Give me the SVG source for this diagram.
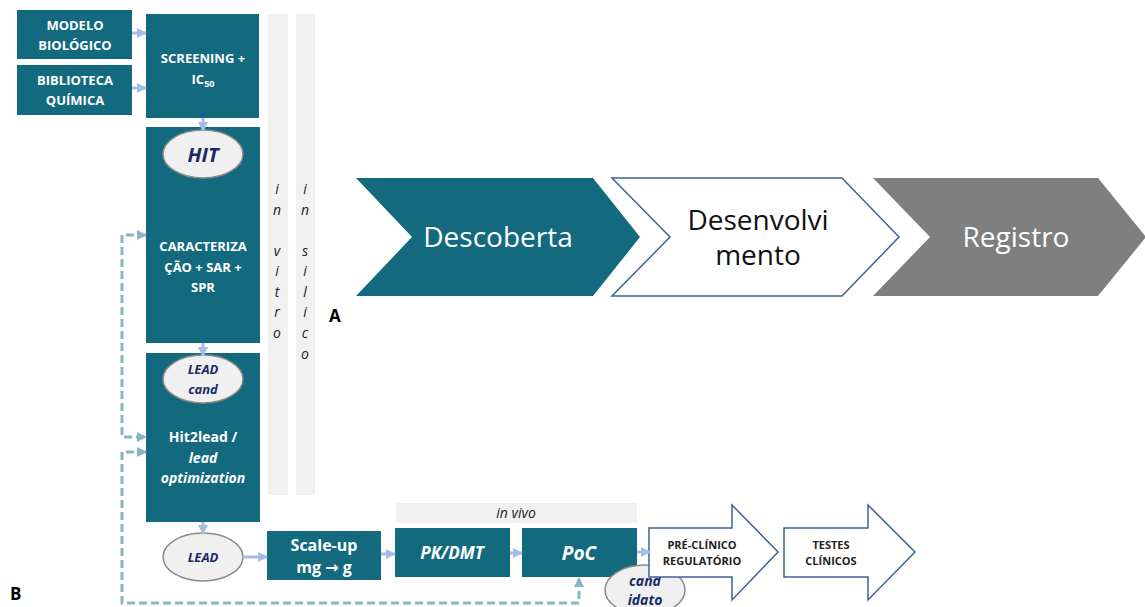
<svg xmlns="http://www.w3.org/2000/svg" width="1145" height="607" viewBox="0 0 1145 607">
<defs>
<style>
.box{fill:#136a7f}
.ell{fill:#f0f0f0;stroke:#8a8a8a;stroke-width:1.5}
.strip{fill:#f1f1f1}
.wt{fill:#ffffff;font-family:"Open Sans","Liberation Sans",sans-serif;font-weight:bold;font-size:13px;text-anchor:middle}
.nv{fill:#1b2a66;font-family:"Open Sans","Liberation Sans",sans-serif;font-weight:bold;font-style:italic;text-anchor:middle}
.vt{fill:#222222;font-family:"Open Sans","Liberation Sans",sans-serif;font-style:italic;font-size:14px;text-anchor:middle}
.dk{fill:#222222;font-family:"Open Sans","Liberation Sans",sans-serif;font-weight:bold;font-size:11px;text-anchor:middle}
.big{font-family:"Open Sans","Liberation Sans",sans-serif;font-size:28px;text-anchor:middle}
.lbl{fill:#000;font-family:"Open Sans","Liberation Sans",sans-serif;font-weight:bold;font-size:17px}
.solid{fill:none;stroke:#a3bde3;stroke-width:3}
.dash{fill:none;stroke:#8ab6c3;stroke-width:3;stroke-dasharray:8 4}
.outl{fill:#ffffff;stroke:#3f6392;stroke-width:1.5}
</style>
<marker id="ah" viewBox="0 0 10 10" refX="9" refY="5" markerWidth="10" markerHeight="10" markerUnits="userSpaceOnUse" orient="auto-start-reverse">
<path d="M0,0 L10,5 L0,10 Z" fill="#a3bde3"/>
</marker>
<marker id="ahd" viewBox="0 0 10 10" refX="9" refY="5" markerWidth="10" markerHeight="10" markerUnits="userSpaceOnUse" orient="auto-start-reverse">
<path d="M0,0 L10,5 L0,10 Z" fill="#8ab6c3"/>
</marker>
</defs>
<rect width="1145" height="607" fill="#ffffff"/>

<g id="strips">
<rect class="strip" x="268" y="14" width="20" height="481"/>
<rect class="strip" x="296" y="14" width="19" height="481"/>
<rect class="strip" x="396" y="503" width="241" height="20"/>
<text class="vt"><tspan x="277" y="194">i</tspan><tspan x="277" y="215">n</tspan><tspan x="277" y="256">v</tspan><tspan x="277" y="276">i</tspan><tspan x="277" y="297">t</tspan><tspan x="277" y="317">r</tspan><tspan x="277" y="338">o</tspan></text>
<text class="vt"><tspan x="305" y="194">i</tspan><tspan x="305" y="215">n</tspan><tspan x="305" y="256">s</tspan><tspan x="305" y="276">i</tspan><tspan x="305" y="297">l</tspan><tspan x="305" y="317">i</tspan><tspan x="305" y="338">c</tspan><tspan x="305" y="359">o</tspan></text>
<text class="vt" x="516" y="518">in vivo</text>
</g>

<g id="labels">
<text class="lbl" x="329" y="322">A</text>
<text class="lbl" x="10" y="600">B</text>
</g>

<g id="descoberta">
<path d="M356,178 L593,178 L640,237 L593,296 L356,296 L412,237 Z" fill="#136a7f"/>
<text class="big" x="498" y="247" fill="#ffffff">Descoberta</text>
</g>
<g id="desenvolvimento">
<path d="M612,178 L842,178 L899,237 L842,296 L612,296 L670,237 Z" class="outl"/>
<text class="big" x="758" y="230" fill="#111111">Desenvolvi</text>
<text class="big" x="758" y="265" fill="#111111">mento</text>
</g>
<g id="registro">
<path d="M873,178 L1098,178 L1146,237 L1098,296 L873,296 L930,237 Z" fill="#7f7f7f"/>
<text class="big" x="1016" y="247" fill="#ffffff">Registro</text>
</g>

<g id="modelo">
<rect class="box" x="17" y="10" width="115" height="49"/>
<text class="wt" x="75" y="30">MODELO</text>
<text class="wt" x="75" y="50">BIOLÓGICO</text>
</g>
<g id="biblioteca">
<rect class="box" x="17" y="65" width="115" height="50"/>
<text class="wt" x="75" y="85">BIBLIOTECA</text>
<text class="wt" x="75" y="105">QUÍMICA</text>
</g>
<g id="screening">
<rect class="box" x="146" y="14" width="113" height="104"/>
<text class="wt" x="203" y="63">SCREENING +</text>
<text class="wt" x="203" y="84">IC<tspan style="font-size:9px" dy="3">50</tspan></text>
</g>
<g id="caracterizacao">
<rect class="box" x="146" y="127" width="114" height="216"/>
<text class="wt" x="203" y="251">CARACTERIZA</text>
<text class="wt" x="203" y="272">ÇÃO + SAR +</text>
<text class="wt" x="203" y="292">SPR</text>
</g>
<g id="hit">
<ellipse class="ell" cx="203" cy="154" rx="40" ry="24"/>
<text class="nv" x="203" y="162" style="font-size:20px">HIT</text>
</g>
<g id="hit2lead">
<rect class="box" x="146" y="353" width="114" height="169"/>
<text class="wt" x="203" y="442" style="font-size:14px">Hit2lead /</text>
<text class="wt" x="203" y="463" style="font-size:14px;font-style:italic">lead</text>
<text class="wt" x="203" y="483" style="font-size:14px;font-style:italic">optimization</text>
</g>
<g id="leadcand">
<ellipse class="ell" cx="203" cy="379" rx="40" ry="24"/>
<text class="nv" x="203" y="374" style="font-size:13px">LEAD</text>
<text class="nv" x="203" y="394" style="font-size:13px">cand</text>
</g>
<g id="lead">
<ellipse class="ell" cx="203" cy="557" rx="40" ry="24"/>
<text class="nv" x="203" y="562" style="font-size:13px">LEAD</text>
</g>
<g id="scaleup">
<rect class="box" x="267" y="531" width="114" height="49"/>
<text class="wt" x="324" y="551" style="font-size:16px">Scale-up</text>
<text class="wt" x="324" y="573" style="font-size:16px">mg <tspan style="font-family:'DejaVu Sans',sans-serif">→</tspan> g</text>
</g>
<g id="pkdmt">
<rect class="box" x="395" y="528" width="115" height="49"/>
<text class="wt" x="452" y="559" style="font-size:17px;font-style:italic">PK/DMT</text>
</g>
<g id="poc">
<rect class="box" x="522" y="528" width="115" height="49"/>
<text class="wt" x="579" y="560" style="font-size:19px;font-style:italic">PoC</text>
</g>
<g id="candidato">
<ellipse class="ell" cx="645" cy="590" rx="40" ry="25"/>
<text class="nv" x="645" y="586" style="font-size:14px">cand</text>
<text class="nv" x="645" y="605" style="font-size:14px">idato</text>
</g>
<g id="preclinico">
<path d="M649,528 L732,528 L732,505 L778,552 L732,600 L732,577 L649,577 Z" class="outl"/>
<text class="dk" x="702" y="549">PRÉ-CLÍNICO</text>
<text class="dk" x="702" y="565">REGULATÓRIO</text>
</g>
<g id="testes">
<path d="M784,528 L868,528 L868,505 L915,552 L868,600 L868,577 L784,577 Z" class="outl"/>
<text class="dk" x="831" y="549">TESTES</text>
<text class="dk" x="831" y="565">CLÍNICOS</text>
</g>

<g id="connectors">
<line class="solid" x1="132" y1="33" x2="146" y2="33" marker-end="url(#ah)"/>
<line class="solid" x1="132" y1="88" x2="146" y2="88" marker-end="url(#ah)"/>
<line class="solid" x1="203" y1="118" x2="203" y2="131" marker-end="url(#ah)"/>
<line class="solid" x1="203" y1="343" x2="203" y2="356" marker-end="url(#ah)"/>
<line class="solid" x1="203" y1="522" x2="203" y2="534" marker-end="url(#ah)"/>
<line class="solid" x1="243" y1="557" x2="267" y2="557" marker-end="url(#ah)"/>
<line class="solid" x1="381" y1="554" x2="395" y2="554" marker-end="url(#ah)"/>
<line class="solid" x1="510" y1="553" x2="522" y2="553" marker-end="url(#ah)"/>
<line class="solid" x1="637" y1="552" x2="650" y2="552" marker-end="url(#ah)"/>
<path class="dash" d="M146,235 H122 V437 H146" marker-start="url(#ahd)" marker-end="url(#ahd)"/>
<path class="dash" d="M146,452 H122 V603 H579 V578" marker-start="url(#ahd)" marker-end="url(#ahd)"/>
</g>
</svg>
